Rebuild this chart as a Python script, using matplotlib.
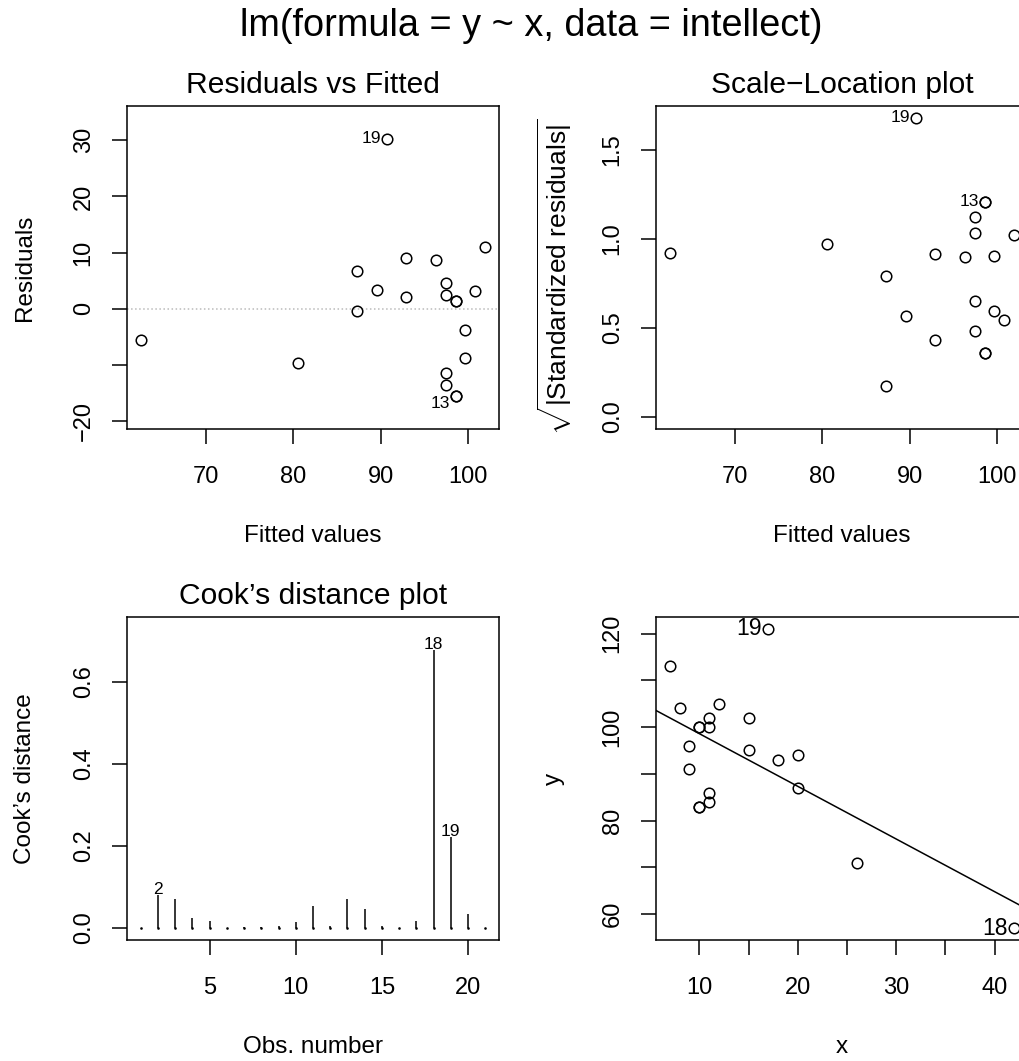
import matplotlib
matplotlib.use("Agg")
import matplotlib.pyplot as plt

plt.rcParams["font.family"] = ["Liberation Sans", "DejaVu Sans"]
plt.rcParams["mathtext.fontset"] = "custom"
plt.rcParams["mathtext.rm"] = "Liberation Sans"
plt.rcParams["mathtext.it"] = "Liberation Sans:italic"

# intellect data: age at first word (x) vs Gesell score (y), 21 children
obs = list(range(1, 22))
x = [15, 26, 10, 9, 15, 20, 18, 11, 8, 20, 7, 9, 10, 11, 11, 10, 12, 42, 17, 11, 10]
y = [95, 71, 83, 91, 102, 87, 93, 100, 104, 94, 113, 96, 83, 84, 102, 100, 105, 57, 121, 86, 100]

# diagnostics of lm(y ~ x)
fitted = [92.97, 80.57, 98.60, 99.73, 92.97, 87.33, 89.59, 97.48, 100.86, 87.33, 101.99,
          99.73, 98.60, 97.48, 97.48, 98.60, 96.35, 62.54, 90.71, 97.48, 98.60]
residuals = [2.03, -9.57, -15.60, -8.73, 9.03, -0.33, 3.41, 2.52, 3.14, 6.67, 11.01,
             -3.73, -15.60, -13.48, 4.52, 1.40, 8.65, -5.54, 30.29, -11.48, 1.40]
sqrt_std_resid = [0.434, 0.972, 1.209, 0.906, 0.916, 0.176, 0.565, 0.485, 0.545, 0.793, 1.024,
                  0.593, 1.209, 1.122, 0.650, 0.362, 0.898, 0.923, 1.680, 1.036, 0.362]
cooks_d = [0.0009, 0.0814, 0.0716, 0.0256, 0.0177, 0.00004, 0.0031, 0.0017, 0.0038, 0.0155, 0.0548,
           0.0047, 0.0716, 0.0476, 0.0054, 0.0006, 0.0179, 0.678, 0.223, 0.0346, 0.0006]
coef = (109.87, -1.127)

W, H = 1020, 1061
TICK_FS = 17
LAB_FS = 17.5
TITLE_FS = 21.6
ID_FS = 12.5
MS = 7.6


def rlim(lo, hi):
    # R style 4% axis extension
    d = (hi - lo) * 0.04
    return lo - d, hi + d


def make_axes(fig, left, top, w=372, h=323):
    return fig.add_axes([left / W, 1 - (top + h) / H, w / W, h / H])


def style(ax, title, xlabel, ylabel, xticks, xlabels, yticks, ylabels, ylab_fs=LAB_FS):
    for s in ax.spines.values():
        s.set_linewidth(1.1)
    ax.set_xticks(xticks)
    ax.set_xticklabels(xlabels)
    ax.set_yticks(yticks)
    ax.set_yticklabels(ylabels, rotation=90, va="center")
    ax.tick_params(direction="out", length=10.8, width=1.1, labelsize=TICK_FS)
    ax.tick_params(axis="x", pad=15.5)
    ax.tick_params(axis="y", pad=12.5)
    ax.set_title(title, fontsize=TITLE_FS, pad=9.6)
    ax.set_xlabel(xlabel, fontsize=LAB_FS)
    ax.set_ylabel(ylabel, fontsize=ylab_fs)
    ax.xaxis.set_label_coords(0.5, -0.33)
    ax.xaxis.label.set_va("center")
    ax.yaxis.set_label_coords(-0.275, 0.5)
    ax.yaxis.label.set_va("center")


def points(ax, xs, ys):
    ax.plot(xs, ys, "o", ms=MS, mfc="none", mec="black", mew=1.1, clip_on=False)


fig = plt.figure(figsize=(W / 100, H / 100), dpi=100)

fig.text(531 / W, 1 - 36 / H, "lm(formula = y ~ x, data = intellect)",
         ha="center", va="baseline", fontsize=27.3)

# Residuals vs Fitted
ax1 = make_axes(fig, 127, 106)
r_lo, r_hi = min(residuals), max(residuals)
pad = (r_hi - r_lo) * 0.08
ax1.axhline(0, color="#bbbbbb", ls=":", lw=1.1)
points(ax1, fitted, residuals)
ax1.set_xlim(rlim(min(fitted), max(fitted)))
ax1.set_ylim(rlim(r_lo - pad, r_hi + pad))
style(ax1, "Residuals vs Fitted", "Fitted values", "Residuals",
      [70, 80, 90, 100], ["70", "80", "90", "100"],
      [-20, -10, 0, 10, 20, 30], ["\u221220", "", "0", "10", "20", "30"])
for i in (18, 12):
    dy = 0 if residuals[i] > 0 else -5
    ax1.annotate(str(obs[i]), (fitted[i], residuals[i]), xytext=(-3.8, dy),
                 textcoords="offset points", ha="right", va="center", fontsize=ID_FS)

# Scale-Location
ax2 = make_axes(fig, 656, 106)
points(ax2, fitted, sqrt_std_resid)
ax2.set_xlim(rlim(min(fitted), max(fitted)))
ax2.set_ylim(rlim(0, max(sqrt_std_resid)))
style(ax2, "Scale\u2212Location plot", "Fitted values",
      r"$\sqrt{\mathrm{|Standardized\ residuals|}}$",
      [70, 80, 90, 100], ["70", "80", "90", "100"],
      [0, 0.5, 1.0, 1.5], ["0.0", "0.5", "1.0", "1.5"], ylab_fs=19)
ax2.yaxis.set_label_coords(-0.272, 0.47)
for i in (18, 12):
    ax2.annotate(str(obs[i]), (fitted[i], sqrt_std_resid[i]), xytext=(-3.8, 0),
                 textcoords="offset points", ha="right", va="center", fontsize=ID_FS)

# Cook's distance
ax3 = make_axes(fig, 127, 617)
ax3.vlines(obs, 0, cooks_d, color="black", lw=1.1)
ax3.plot(obs, [0] * len(obs), "s", ms=0.8, color="black")
ax3.set_xlim(rlim(1, 21))
ax3.set_ylim(rlim(0, max(cooks_d) * 1.075))
style(ax3, "Cook\u2019s distance plot", "Obs. number", "Cook\u2019s distance",
      [5, 10, 15, 20], ["5", "10", "15", "20"],
      [0, 0.2, 0.4, 0.6], ["0.0", "0.2", "0.4", "0.6"])
for i in (1, 17, 18):
    ax3.annotate(str(obs[i]), (obs[i], cooks_d[i]), xytext=(0, 0.5),
                 textcoords="offset points", ha="center", va="baseline", fontsize=ID_FS)

# y vs x with fitted line
ax4 = make_axes(fig, 656, 617)
points(ax4, x, y)
ax4.axline((0, coef[0]), slope=coef[1], color="black", lw=1.1)
ax4.set_xlim(rlim(min(x), max(x)))
ax4.set_ylim(rlim(min(y), max(y)))
style(ax4, "", "x", "y",
      [10, 15, 20, 25, 30, 35, 40], ["10", "", "20", "", "30", "", "40"],
      [60, 70, 80, 90, 100, 110, 120], ["60", "", "80", "", "100", "", "120"])
for i in (18, 17):
    ax4.annotate(str(obs[i]), (x[i], y[i]), xytext=(-4.7, 0),
                 textcoords="offset points", ha="right", va="center", fontsize=16.6)

fig.savefig("out.png", dpi=100)
